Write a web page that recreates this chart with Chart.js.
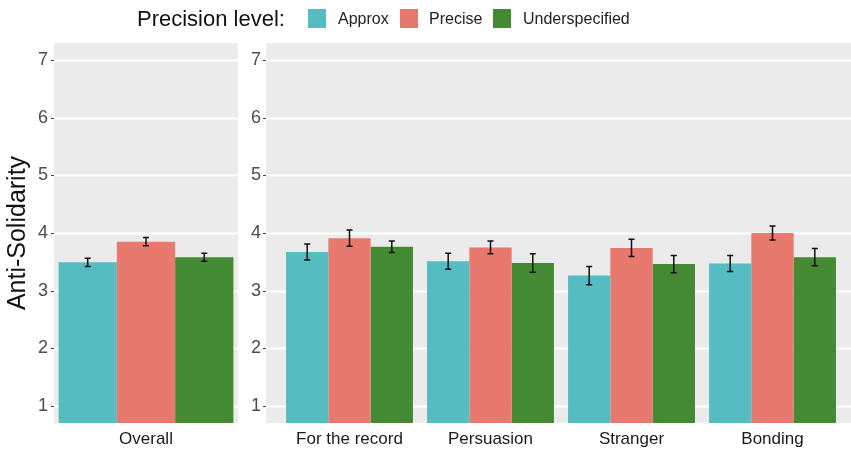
<!DOCTYPE html>
<html>
<head>
<meta charset="utf-8">
<script src="https://cdn.jsdelivr.net/npm/chart.js@4"></script>
<style>
  html, body { margin: 0; padding: 0; background: #fff; overflow: hidden; }
  body { width: 851px; height: 449px; position: relative; font-family: "Liberation Sans", Arial, sans-serif; }
  .box { position: absolute; }
  .legend-title { position: absolute; left: 137px; top: 0; line-height: 37px; font-size: 22px; color: #111; z-index: 2; }
  .key { position: absolute; top: 9px; width: 18px; height: 19px; z-index: 2; }
  .lab { position: absolute; top: 0; line-height: 37px; font-size: 16px; color: #222; z-index: 2; }
</style>
</head>
<body>
<div class="legend-title">Precision level:</div>
<div class="key" style="left:308px;background:#55BCC2"></div>
<div class="lab" style="left:338px">Approx</div>
<div class="key" style="left:400px;background:#E8796E"></div>
<div class="lab" style="left:429px">Precise</div>
<div class="key" style="left:493px;background:#438A32"></div>
<div class="lab" style="left:523px">Underspecified</div>

<div class="box" style="left:0;top:0;width:240px;height:449px"><canvas id="overallChart"></canvas></div>
<div class="box" style="left:240px;top:0;width:611px;height:449px"><canvas id="contextChart"></canvas></div>

<script>
// Data
const levels = ['Approx', 'Precise', 'Underspecified'];
const levelColors = ['#55BCC2', '#E8796E', '#438A32'];
const yTicks = [1, 2, 3, 4, 5, 6, 7];

const overallLabels = ['Overall'];
const overallApprox = [3.49];
const overallPrecise = [3.85];
const overallUnder = [3.58];
const overallApproxErr = [0.07];
const overallPreciseErr = [0.07];
const overallUnderErr = [0.07];

const contextLabels = ['For the record', 'Persuasion', 'Stranger', 'Bonding'];
const contextApprox = [3.67, 3.51, 3.26, 3.47];
const contextPrecise = [3.91, 3.75, 3.74, 4.00];
const contextUnder = [3.76, 3.48, 3.46, 3.58];
const contextApproxErr = [0.14, 0.14, 0.16, 0.14];
const contextPreciseErr = [0.14, 0.11, 0.15, 0.12];
const contextUnderErr = [0.10, 0.16, 0.15, 0.15];

// grey panel, white grid lines and little tick marks (ggplot look)
const panelPlugin = {
    id: 'panel',
    beforeDraw(chart, args, opts) {
        const { ctx, chartArea } = chart;
        const y = chart.scales.y;
        const left = chartArea.left - (opts.extL || 0);
        const right = chartArea.right + (opts.extR || 0);
        ctx.save();
        ctx.fillStyle = '#EBEBEB';
        ctx.fillRect(left, chartArea.top, right - left, chartArea.bottom - chartArea.top);
        y.ticks.forEach(t => {
            const py = Math.round(y.getPixelForValue(t.value)) + 0.5;
            ctx.strokeStyle = '#FFFFFF';
            ctx.lineWidth = 2;
            ctx.beginPath();
            ctx.moveTo(left, py);
            ctx.lineTo(right, py);
            ctx.stroke();
            ctx.strokeStyle = '#444';
            ctx.lineWidth = 1;
            ctx.beginPath();
            ctx.moveTo(left - 3, py);
            ctx.lineTo(left, py);
            ctx.stroke();
        });
        ctx.restore();
    }
};

// error bars drawn on top of the bars
const errorBarPlugin = {
    id: 'errorBars',
    afterDatasetsDraw(chart) {
        const { ctx } = chart;
        const y = chart.scales.y;
        ctx.save();
        ctx.strokeStyle = '#111';
        ctx.lineWidth = 1.5;
        chart.data.datasets.forEach((ds, i) => {
            const meta = chart.getDatasetMeta(i);
            meta.data.forEach((bar, j) => {
                const v = ds.data[j];
                const e = ds.errors[j];
                const top = y.getPixelForValue(v + e);
                const bot = y.getPixelForValue(v - e);
                ctx.beginPath();
                ctx.moveTo(bar.x, top);
                ctx.lineTo(bar.x, bot);
                ctx.moveTo(bar.x - 3, top);
                ctx.lineTo(bar.x + 3, top);
                ctx.moveTo(bar.x - 3, bot);
                ctx.lineTo(bar.x + 3, bot);
                ctx.stroke();
            });
        });
        ctx.restore();
    }
};

function makeDatasets(values, errors, catPct) {
    return values.map((vals, i) => ({
        label: levels[i],
        data: vals,
        errors: errors[i],
        backgroundColor: levelColors[i],
        borderWidth: 0,
        barPercentage: 1.0,
        categoryPercentage: catPct
    }));
}

function makeOptions(cfg) {
    return {
        responsive: true,
        maintainAspectRatio: false,
        animation: false,
        layout: { padding: { top: 43, right: cfg.padRight, bottom: 0, left: 0 } },
        plugins: {
            legend: { display: false },
            tooltip: { enabled: false },
            panel: { extL: cfg.extL, extR: cfg.extR }
        },
        scales: {
            x: {
                grid: { display: false, drawTicks: false },
                border: { display: false },
                ticks: { color: '#1A1A1A', font: { size: 17, family: 'Liberation Sans' }, padding: 6, maxRotation: 0 },
                afterFit: s => { s.height = 26; }
            },
            y: {
                min: 0.7,
                max: 7.3,
                grid: { display: false, drawTicks: false },
                border: { display: false },
                afterBuildTicks: s => { s.ticks = yTicks.map(v => ({ value: v })); },
                ticks: { color: '#4D4D4D', font: { size: 18, family: 'Liberation Sans' }, padding: cfg.tickPad },
                title: cfg.title ? {
                    display: true,
                    text: cfg.title,
                    color: '#111',
                    font: { size: 25, family: 'Liberation Sans', lineHeight: 1.2 },
                    padding: { top: 3, bottom: 0 }
                } : { display: false },
                afterFit: s => {
                    s.width = cfg.yWidth;
                    // labels sit well inside the plot, so no extra room is needed above/below
                    s.paddingTop = 0;
                    s.paddingBottom = 0;
                }
            }
        }
    };
}

window.onload = function () {
    new Chart(document.getElementById('overallChart'), {
        type: 'bar',
        data: {
            labels: overallLabels,
            datasets: makeDatasets(
                [overallApprox, overallPrecise, overallUnder],
                [overallApproxErr, overallPreciseErr, overallUnderErr], 0.95)
        },
        options: makeOptions({ padRight: 2, extL: 0, extR: 0, tickPad: 6, yWidth: 54, title: 'Anti-Solidarity' }),
        plugins: [panelPlugin, errorBarPlugin]
    });

    new Chart(document.getElementById('contextChart'), {
        type: 'bar',
        data: {
            labels: contextLabels,
            datasets: makeDatasets(
                [contextApprox, contextPrecise, contextUnder],
                [contextApproxErr, contextPreciseErr, contextUnderErr], 0.9)
        },
        options: makeOptions({ padRight: 8, extL: 13, extR: 20, tickPad: 18, yWidth: 39, title: null }),
        plugins: [panelPlugin, errorBarPlugin]
    });
};
</script>
</body>
</html>
